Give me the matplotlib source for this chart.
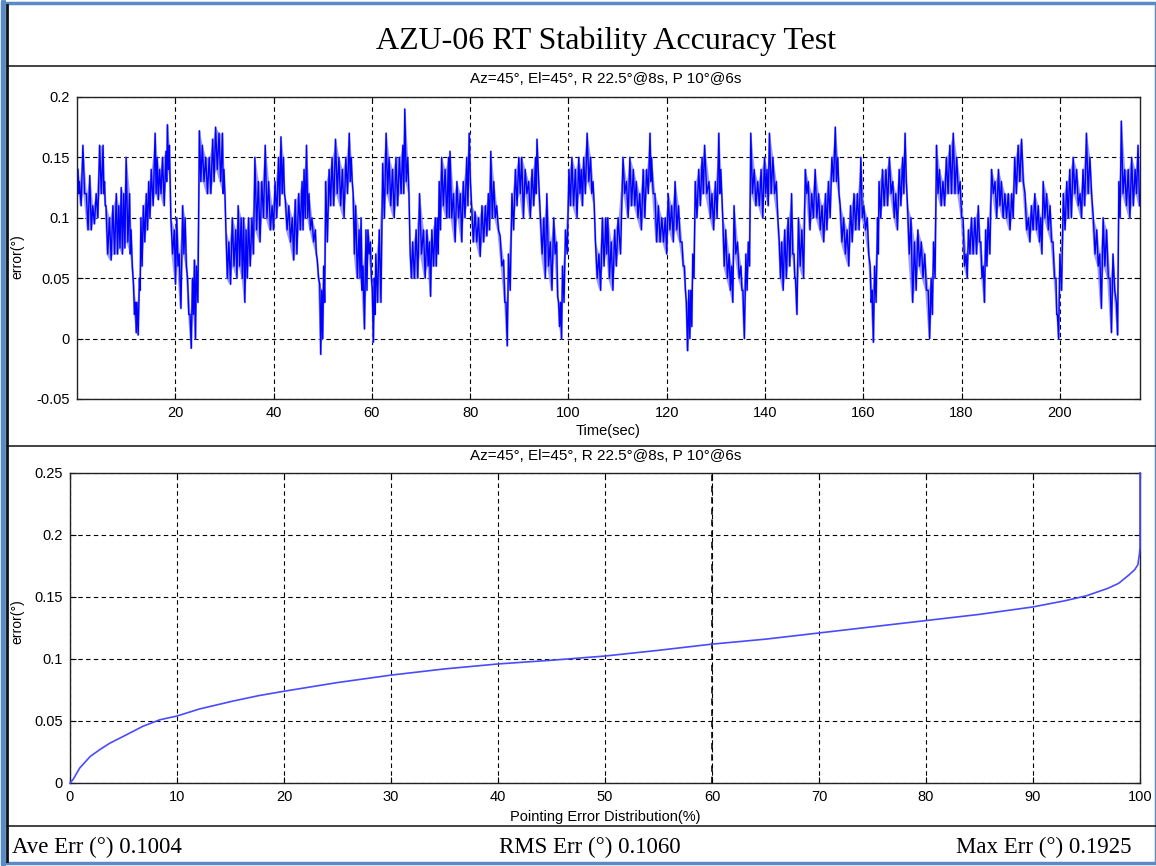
import numpy as np
import matplotlib
matplotlib.use("Agg")
import matplotlib.pyplot as plt
from matplotlib.lines import Line2D
from matplotlib.patches import Rectangle

# ---------------- data ----------------
title = "AZU-06 RT Stability Accuracy Test"
subtitle = "Az=45°, El=45°, R 22.5°@8s, P 10°@6s"
stats_labels = ["Ave Err (°) 0.1004", "RMS Err (°) 0.1060", "Max Err (°) 0.1925"]

time_s = [
    0.2, 0.5, 1.2, 1.9, 2.6, 3.2, 3.9, 4.6, 5.3, 5.6, 5.9, 6.6, 7.3, 8.0, 8.5, 9.0, 9.5, 10.0,
    10.7, 11.0, 11.5, 11.9, 12.2, 12.7, 13.0, 13.5, 14.1, 14.6, 15.1, 15.9, 16.3, 16.8, 17.4,
    18.1, 18.4, 18.8, 19.1, 19.8, 20.3, 20.8, 21.5, 22.0, 22.5, 23.0, 23.5, 23.9, 24.3, 24.9,
    25.5, 26.2, 26.9, 27.6, 28.2, 28.9, 29.6, 29.9, 30.3, 30.9, 31.6, 32.3,
    32.8, 33.4, 33.9, 34.4, 34.9, 35.6, 36.2, 36.9, 37.6, 38.3, 39.0, 39.7, 40.3, 41.0, 41.5,
    42.0, 42.4, 43.1, 43.8, 44.4, 45.1, 45.8, 46.2, 46.7, 47.2, 47.8, 48.5, 48.9, 49.4, 49.8,
    50.2, 50.6, 51.3, 51.9, 52.6, 53.3, 54.0, 54.7, 55.4, 55.8, 56.2, 56.7, 57.4, 57.8, 58.2,
    58.8, 59.2, 59.7, 60.1, 60.5, 60.8, 61.5, 62.2, 62.9, 63.5, 64.2, 64.9, 65.6, 66.3, 66.7,
    67.3, 67.8, 68.3, 69.0, 69.7,
    70.5, 71.2, 71.7, 72.2, 72.9, 73.3, 73.7, 74.2, 74.9, 75.6, 75.9, 76.6, 77.3, 78.0, 78.6,
    79.3, 79.8, 80.3, 81.0, 81.7, 82.4, 83.1, 83.7, 84.2, 84.8, 85.4, 86.1, 86.8, 87.3, 87.8,
    88.5, 89.2, 89.9, 90.5, 91.2, 91.9, 92.6, 93.3, 93.6, 94.3, 95.0, 95.6, 96.3, 97.0, 97.6,
    98.0, 98.4, 98.8, 99.4, 100.1, 100.7, 101.4, 102.1, 102.6, 103.1, 103.8, 104.5, 105.0,
    105.5, 106.2, 106.9, 107.6,
    108.0, 108.7, 109.4, 110.1, 111.1, 111.8, 112.5, 113.2, 113.8, 114.5, 115.2, 115.9, 116.6,
    116.9, 117.6, 118.3, 119.0, 119.7, 120.3, 121.0, 121.7, 122.4, 123.1, 123.6, 124.0, 124.5,
    124.9, 125.3, 125.8, 126.5, 127.2, 127.7, 128.6, 129.2, 129.9, 130.6, 131.0, 131.4, 132.0,
    132.7, 133.2, 133.7, 134.4, 135.1, 135.5, 136.1, 136.6, 137.1, 137.8, 138.5, 139.2, 139.9,
    140.4, 140.9, 141.6, 142.3, 142.9,
    143.4, 144.0, 144.7, 145.4, 145.9, 146.2, 146.8, 147.5, 148.2, 148.8, 149.5, 150.2, 150.9,
    151.6, 152.3, 152.9, 153.6, 154.3, 154.8, 155.3, 156.0, 156.7, 157.4, 158.1, 158.8, 159.5,
    160.1, 160.8, 161.4, 161.8, 162.3, 162.9, 163.2, 163.9, 164.6, 165.3, 166.0, 166.6, 167.3,
    168.0, 168.5, 169.0, 169.7, 170.4, 171.1, 171.8, 172.5, 173.2, 173.8, 174.3, 174.9, 175.5,
    176.2, 176.9, 177.6, 178.3, 179.0, 179.7,
    180.3, 180.9, 181.4, 182.0, 182.7, 183.4, 183.9, 184.4, 184.9, 185.4, 186.1, 186.8, 187.5,
    188.1, 188.8, 189.5, 190.2, 190.8, 191.5, 192.2, 192.9, 193.6, 194.2, 194.9, 195.6, 196.1,
    196.6, 197.3, 198.0, 198.6, 199.2, 199.5, 200.0, 200.7, 201.4, 202.0, 202.7, 203.4, 204.1,
    204.7, 205.4, 206.1, 206.8, 207.5, 208.1, 208.8, 209.5, 210.2, 210.8, 211.5, 212.0, 212.5,
    213.2, 213.9, 214.6, 215.3, 215.9,
]

err_lo = [
    0.12, 0.11, 0.12, 0.09, 0.09, 0.095, 0.10, 0.12, 0.12, 0.11, 0.07, 0.065, 0.07, 0.07, 0.075, 0.07, 0.075, 0.08,
    0.07, 0.06, 0.02, 0.005, 0.003, 0.04, 0.06, 0.08, 0.09, 0.10, 0.11, 0.12, 0.115, 0.12, 0.11,
    0.13, 0.14, 0.13, 0.07, 0.045, 0.06, 0.025, 0.07, 0.06, 0.02, -0.008, 0.02, 0.0, 0.03, 0.13,
    0.13, 0.12, 0.12, 0.13, 0.14, 0.13, 0.12, 0.12, 0.05, 0.045, 0.06, 0.05,
    0.06, 0.05, 0.03, 0.05, 0.06, 0.07, 0.09, 0.08, 0.10, 0.10, 0.09, 0.09, 0.10, 0.11, 0.12,
    0.12, 0.09, 0.08, 0.065, 0.07, 0.09, 0.09, 0.10, 0.10, 0.09, 0.08, 0.07, 0.05, -0.013, 0.0,
    0.03, 0.08, 0.11, 0.11, 0.12, 0.11, 0.10, 0.12, 0.13, 0.13, 0.07, 0.05, 0.05, 0.04, 0.008,
    0.04, 0.07, 0.05, -0.003, 0.02, 0.03, 0.03, 0.10, 0.12, 0.11, 0.10, 0.11, 0.12, 0.12, 0.13,
    0.12, 0.05, 0.05, 0.05, 0.07,
    0.05, 0.06, 0.035, 0.06, 0.06, 0.07, 0.09, 0.11, 0.10, 0.10, 0.10, 0.08, 0.10, 0.08, 0.10,
    0.11, 0.13, 0.08, 0.08, 0.068, 0.08, 0.085, 0.09, 0.10, 0.10, 0.09, 0.06, 0.03, -0.006, 0.04,
    0.09, 0.11, 0.12, 0.10, 0.12, 0.10, 0.11, 0.12, 0.13, 0.07, 0.05, 0.06, 0.04, 0.07, 0.035,
    0.01, 0.0, 0.03, 0.07, 0.11, 0.11, 0.10, 0.12, 0.11, 0.12, 0.13, 0.12, 0.11,
    0.05, 0.04, 0.06, 0.07,
    0.05, 0.04, 0.06, 0.07, 0.12, 0.10, 0.11, 0.11, 0.10, 0.09, 0.10, 0.12, 0.13,
    0.12, 0.08, 0.08, 0.08, 0.07, 0.09, 0.08, 0.09, 0.08, 0.06, 0.04, -0.01, 0.0,
    0.01, 0.05, 0.10, 0.11, 0.12, 0.12, 0.10, 0.09, 0.10, 0.12, 0.12, 0.06, 0.05,
    0.04, 0.03, 0.07, 0.05, 0.04, 0.0, 0.04, 0.06, 0.12, 0.11, 0.11, 0.10, 0.12,
    0.11, 0.12, 0.12, 0.10, 0.05,
    0.04, 0.05, 0.06, 0.07, 0.05, 0.02, 0.06, 0.05, 0.12, 0.09, 0.10, 0.10, 0.09,
    0.08, 0.09, 0.10, 0.13, 0.13, 0.12, 0.08, 0.07, 0.06, 0.08, 0.09, 0.09, 0.10,
    0.09, 0.07, 0.03, -0.003, 0.03, 0.07, 0.10, 0.11, 0.11, 0.12, 0.10, 0.09, 0.11,
    0.12, 0.13, 0.07, 0.03, 0.04, 0.06, 0.05, 0.04, 0.0, 0.02, 0.05, 0.12, 0.11,
    0.11, 0.12, 0.12, 0.12, 0.12, 0.10,
    0.06, 0.05, 0.07, 0.07, 0.07, 0.08, 0.05, 0.03, 0.06, 0.07, 0.12, 0.10, 0.11,
    0.10, 0.10, 0.09, 0.10, 0.12, 0.13, 0.13, 0.09, 0.08, 0.09, 0.09, 0.08, 0.07,
    0.10, 0.09, 0.08, 0.05, 0.02, 0.0, 0.04, 0.09, 0.10, 0.10, 0.12, 0.11, 0.10,
    0.11, 0.12, 0.12, 0.07, 0.06, 0.025, 0.06, 0.05, 0.005, 0.04, 0.003, 0.10, 0.12,
    0.11, 0.10, 0.11, 0.12, 0.11,
]

err_hi = [
    0.14, 0.13, 0.16, 0.12, 0.135, 0.11, 0.12, 0.16, 0.16, 0.13, 0.11, 0.10, 0.11, 0.12, 0.11, 0.125, 0.12, 0.15,
    0.12, 0.09, 0.045, 0.03, 0.03, 0.05, 0.10, 0.11, 0.12, 0.13, 0.14, 0.17, 0.15, 0.14, 0.15,
    0.155, 0.177, 0.16, 0.10, 0.09, 0.10, 0.07, 0.11, 0.10, 0.05, 0.02, 0.05, 0.065, 0.06, 0.172,
    0.16, 0.15, 0.15, 0.165, 0.175, 0.17, 0.17, 0.14, 0.09, 0.08, 0.10, 0.09,
    0.11, 0.10, 0.10, 0.09, 0.10, 0.10, 0.15, 0.13, 0.13, 0.16, 0.13, 0.11, 0.13, 0.15, 0.167,
    0.15, 0.115, 0.11, 0.10, 0.115, 0.12, 0.13, 0.14, 0.16, 0.12, 0.10, 0.09, 0.065, 0.045, 0.04,
    0.06, 0.13, 0.14, 0.15, 0.165, 0.15, 0.14, 0.15, 0.17, 0.15, 0.12, 0.11, 0.09, 0.10, 0.06,
    0.09, 0.09, 0.08, 0.04, 0.05, 0.07, 0.09, 0.145, 0.17, 0.15, 0.14, 0.15, 0.15, 0.16, 0.19,
    0.15, 0.07, 0.08, 0.09, 0.12,
    0.09, 0.09, 0.08, 0.09, 0.10, 0.10, 0.13, 0.15, 0.14, 0.15, 0.155, 0.12, 0.13, 0.12, 0.13,
    0.15, 0.17, 0.11, 0.105, 0.10, 0.11, 0.11, 0.12, 0.155, 0.13, 0.11, 0.085, 0.065, 0.03, 0.07,
    0.12, 0.14, 0.15, 0.15, 0.14, 0.13, 0.14, 0.15, 0.165, 0.10, 0.10, 0.12, 0.08, 0.10, 0.08,
    0.03, 0.03, 0.06, 0.09, 0.14, 0.15, 0.14, 0.15, 0.14, 0.15, 0.17, 0.15, 0.13,
    0.08, 0.07, 0.10, 0.10,
    0.10, 0.08, 0.09, 0.10, 0.15, 0.13, 0.15, 0.14, 0.13, 0.12, 0.14, 0.14, 0.17,
    0.15, 0.12, 0.11, 0.10, 0.10, 0.12, 0.11, 0.13, 0.11, 0.08, 0.06, 0.03, 0.04,
    0.04, 0.07, 0.13, 0.14, 0.15, 0.16, 0.13, 0.12, 0.13, 0.17, 0.14, 0.10, 0.09,
    0.07, 0.06, 0.11, 0.08, 0.06, 0.04, 0.07, 0.08, 0.17, 0.14, 0.13, 0.14, 0.15,
    0.14, 0.17, 0.15, 0.13, 0.08,
    0.08, 0.09, 0.10, 0.12, 0.07, 0.05, 0.10, 0.09, 0.14, 0.13, 0.12, 0.14, 0.12,
    0.11, 0.12, 0.13, 0.15, 0.175, 0.15, 0.11, 0.10, 0.09, 0.11, 0.12, 0.12, 0.15,
    0.11, 0.10, 0.06, 0.04, 0.06, 0.10, 0.13, 0.14, 0.14, 0.15, 0.13, 0.12, 0.14,
    0.15, 0.17, 0.11, 0.10, 0.08, 0.09, 0.08, 0.07, 0.04, 0.05, 0.08, 0.16, 0.14,
    0.13, 0.15, 0.16, 0.17, 0.15, 0.13,
    0.10, 0.07, 0.09, 0.10, 0.10, 0.11, 0.08, 0.06, 0.09, 0.10, 0.14, 0.13, 0.14,
    0.13, 0.12, 0.12, 0.12, 0.15, 0.16, 0.165, 0.12, 0.10, 0.11, 0.12, 0.11, 0.10,
    0.13, 0.12, 0.11, 0.08, 0.05, 0.02, 0.07, 0.12, 0.13, 0.14, 0.15, 0.14, 0.12,
    0.14, 0.17, 0.15, 0.10, 0.09, 0.07, 0.10, 0.09, 0.05, 0.07, 0.03, 0.13, 0.18,
    0.14, 0.14, 0.15, 0.14, 0.16,
]

dist_pct = [0, 0.3, 0.9, 1.9, 2.8, 3.7, 5.3, 6.8, 8.4, 10, 12.1, 15.2, 17.6, 20, 25, 30, 35,
            40, 45, 50, 55, 60, 65, 70, 75, 80, 85, 90, 93, 95, 97, 98, 99, 99.5, 99.8,
            99.95, 100, 100]
dist_err = [0, 0.003, 0.012, 0.0215, 0.027, 0.032, 0.039, 0.0457, 0.051, 0.054, 0.0597,
            0.066, 0.0704, 0.074, 0.081, 0.087, 0.092, 0.096, 0.099, 0.1024, 0.107, 0.112,
            0.116, 0.121, 0.126, 0.131, 0.136, 0.142, 0.147, 0.151, 0.157, 0.161, 0.168,
            0.172, 0.176, 0.185, 0.19, 0.25]

top_xticks = [20, 40, 60, 80, 100, 120, 140, 160, 180, 200]
top_yticks = [-0.05, 0, 0.05, 0.1, 0.15, 0.2]
top_ylabels = ["-0.05", "0", "0.05", "0.1", "0.15", "0.2"]
bot_xticks = [0, 10, 20, 30, 40, 50, 60, 70, 80, 90, 100]
bot_yticks = [0, 0.05, 0.1, 0.15, 0.2, 0.25]
bot_ylabels = ["0", "0.05", "0.1", "0.15", "0.2", "0.25"]

# ---------------- figure ----------------
W, H = 1156, 866
fig = plt.figure(figsize=(W / 100, H / 100), dpi=100)
fig.patch.set_facecolor("white")
plt.rcParams["font.family"] = ["Liberation Sans", "DejaVu Sans"]


def fx(px):
    return px / W


def fy(py):
    return 1 - py / H


def style_axes(ax):
    ax.grid(True, color="black", linestyle=(0, (4, 3)), linewidth=0.8)
    ax.tick_params(direction="in", length=4, width=0.8, top=True, right=True,
                   labelsize=10.5, pad=5, colors="black")
    for s in ax.spines.values():
        s.set_linewidth(1.0)
        s.set_color("#222222")
    ax.set_axisbelow(True)


# top panel
ax1 = fig.add_axes([fx(77), fy(399), fx(1140) - fx(77), fy(97) - fy(399)])
t = np.asarray(time_s)
lo = np.asarray(err_lo)
hi = np.asarray(err_hi)
t_mid = np.append((t[:-1] + t[1:]) / 2, t[-1] + 0.3)
zig_t = np.ravel(np.column_stack([t, t_mid]))
zig_v = np.ravel(np.column_stack([hi, lo]))
ax1.fill_between(t, lo, hi, color="#7a7aff", alpha=0.75, linewidth=0, zorder=2)
ax1.plot(zig_t, zig_v, color="#9a9aff", linewidth=1.6, alpha=0.7, zorder=2)
ax1.plot(zig_t, zig_v, color="#0000ff", linewidth=1.0, zorder=3)
ax1.set_xlim(0, 216.3)
ax1.set_ylim(-0.05, 0.2)
ax1.set_xticks(top_xticks)
ax1.set_yticks(top_yticks)
ax1.set_yticklabels(top_ylabels)
style_axes(ax1)
ax1.set_xlabel("Time(sec)", fontsize=10.5, labelpad=3)
ax1.set_ylabel("error(°)", fontsize=10)
ax1.yaxis.set_label_coords((24 - 77) / 1063, 0.47)

# bottom panel
ax2 = fig.add_axes([fx(70), fy(783), fx(1140) - fx(70), fy(473) - fy(783)])
ax2.axvline(60, color="black", linestyle=(0, (4, 3)), linewidth=1.15, zorder=1)
ax2.plot(dist_pct, dist_err, color="#4a4aff", linewidth=1.2, zorder=4, clip_on=False)
ax2.set_xlim(0, 100)
ax2.set_ylim(0, 0.25)
ax2.set_xticks(bot_xticks)
ax2.set_yticks(bot_yticks)
ax2.set_yticklabels(bot_ylabels)
style_axes(ax2)
ax2.set_xlabel("Pointing Error Distribution(%)", fontsize=10.5, labelpad=4)
ax2.set_ylabel("error(°)", fontsize=10)
ax2.yaxis.set_label_coords((24 - 70) / 1070, 0.52)

# titles
fig.text(fx(606), fy(41), title, ha="center", va="center", fontsize=23,
         family=["Liberation Serif", "DejaVu Serif"])
fig.text(fx(606), fy(79), subtitle, ha="center", va="center", fontsize=11)
fig.text(fx(606), fy(456), subtitle, ha="center", va="center", fontsize=11)

# stats row
serif = ["Liberation Serif", "DejaVu Serif"]
fig.text(fx(12), fy(847), stats_labels[0], ha="left", va="center", fontsize=16.5, family=serif)
fig.text(fx(590), fy(847), stats_labels[1], ha="center", va="center", fontsize=16.5, family=serif)
fig.text(fx(1132), fy(847), stats_labels[2], ha="right", va="center", fontsize=16.5, family=serif)

# frame lines
for py in (66, 446, 826):
    fig.add_artist(Line2D([fx(7), 1], [fy(py), fy(py)], color="#222222", linewidth=1.2))
fig.add_artist(Line2D([fx(7), fx(7)], [fy(5), fy(861)], color="#111111", linewidth=2.0))
fig.add_artist(Rectangle((fx(1.5), fy(863)), fx(1156) - fx(1.5), fy(2.5) - fy(863),
                         fill=False, edgecolor="#5b8bc6", linewidth=2.5))
fig.add_artist(Line2D([fx(2.5), fx(2.5)], [fy(2), fy(864)], color="#5b8bc6", linewidth=3.5))

fig.savefig("out.png", dpi=100)
